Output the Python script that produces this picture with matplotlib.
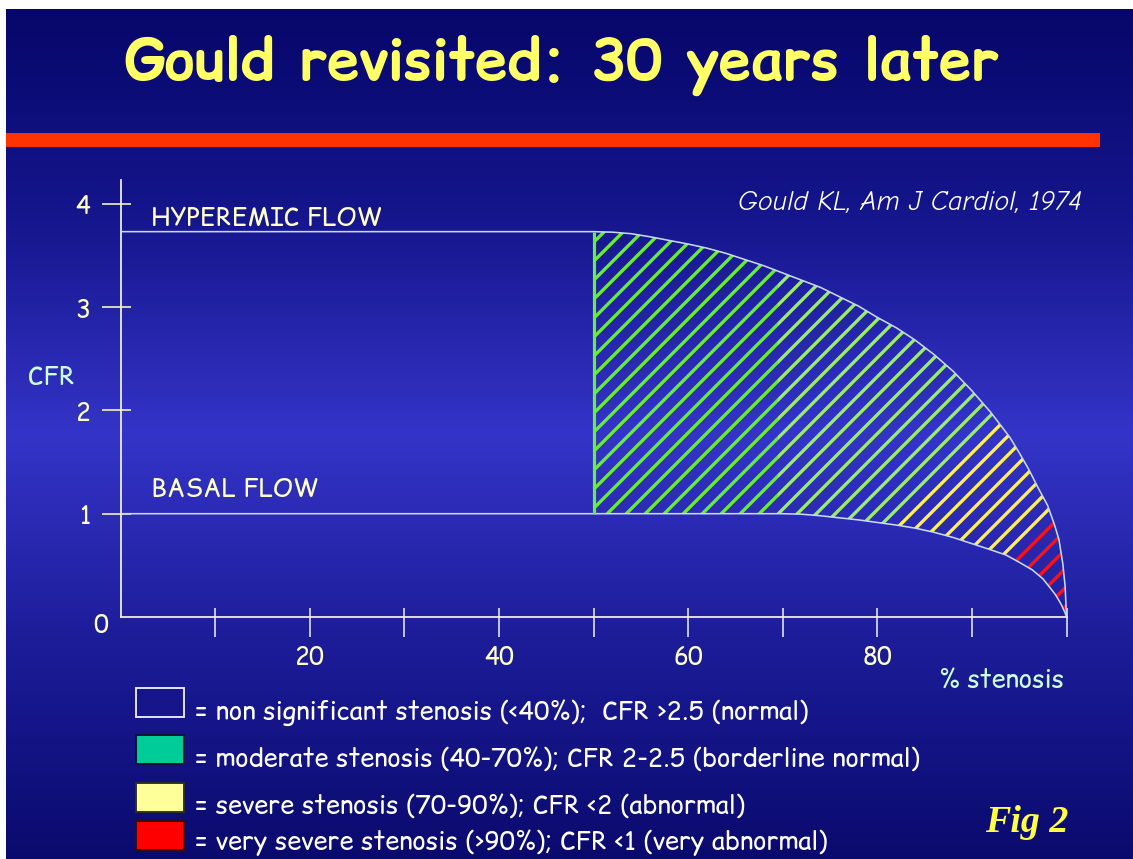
import matplotlib
matplotlib.use("Agg")
import matplotlib.pyplot as plt
import numpy as np
from matplotlib.patches import Polygon, Rectangle
from matplotlib.lines import Line2D
from matplotlib.colors import LinearSegmentedColormap

W, H, DPI = 1133, 859, 114

# curves: % stenosis vs coronary flow reserve
hyper_x = [0, 50, 52, 54, 56, 58, 60, 62, 64, 66, 68, 70, 72, 74, 76, 78, 80, 82, 84, 86, 88, 90,
           92, 94, 95, 96, 97, 98, 98.7, 99.2, 99.6, 99.85, 100]
hyper_y = [3.73, 3.73, 3.725, 3.71, 3.68, 3.645, 3.61, 3.57, 3.52, 3.46, 3.40, 3.33, 3.26, 3.19,
           3.10, 3.01, 2.90, 2.80, 2.68, 2.54, 2.38, 2.19, 1.98, 1.74, 1.59, 1.43, 1.25, 1.08,
           0.90, 0.75, 0.52, 0.30, 0.0]
basal_x = [0, 70, 72, 74, 76, 78, 80, 82, 84, 86, 88, 90, 92, 93.6, 95, 96.4, 97.5, 98.2, 98.8,
           99.2, 99.5, 99.8, 100]
basal_y = [1.0, 1.0, 0.995, 0.98, 0.96, 0.94, 0.915, 0.89, 0.86, 0.82, 0.77, 0.71, 0.65, 0.60,
           0.53, 0.455, 0.37, 0.29, 0.22, 0.16, 0.11, 0.05, 0.0]

x_ticks = [10, 20, 30, 40, 50, 60, 70, 80, 90, 100]
x_labels = ["", "20", "", "40", "", "60", "", "80", "", ""]
y_ticks = [1, 2, 3, 4]

# hatch colours and the lines separating them (two points on each cut)
hatch_start = 50
hatch_colors = ["#66ee33", "#99ee66", "#ffee55", "#ff1111"]
cuts = [
    [(48, 0), (48, 2)],
    [(69.5, 0.9), (69.5, 4.0)],
    [(81.6, 0.92), (91.5, 1.83)],
    [(94.1, 0.60), (98.4, 0.99)],
    [(103, 0), (103, 2)],
]

legend_labels = [
    "= non significant stenosis (<40%);  CFR >2.5 (normal)",
    "= moderate stenosis (40-70%); CFR 2-2.5 (borderline normal)",
    "= severe stenosis (70-90%); CFR <2 (abnormal)",
    "= very severe stenosis (>90%); CFR <1 (very abnormal)",
]
legend_colors = ["#16168a", "#00cc99", "#ffff99", "#ff0000"]
legend_edges = ["#e8e8ff", "#101030", "#303020", "#301010"]
legend_top = [688, 735, 783, 821]
legend_baseline = [719, 766, 813, 850]

bg_stops = ["#06066a", "#16168e", "#3434c8", "#1c1c98", "#0a0a6e"]

plt.rcParams["font.family"] = ["Comic Relief", "Comic Neue", "DejaVu Sans"]
plt.rcParams["hatch.linewidth"] = 2.1


def fx(px):
    return px / W


def fy(py):
    return 1 - py / H


fig = plt.figure(figsize=(W / DPI, H / DPI), dpi=DPI, facecolor="white")

# slide background
bg = fig.add_axes([fx(6), 0, 1 - fx(6), 1 - 9 / H], zorder=0)
cmap = LinearSegmentedColormap.from_list("slide", bg_stops[::-1])
bg.imshow(np.linspace(0, 1, 256).reshape(-1, 1), cmap=cmap, aspect="auto",
          origin="lower", extent=[0, 1, 0, 1])
bg.set_axis_off()

fig.add_artist(Line2D([fx(6), fx(1100)], [fy(140), fy(140)], lw=8.8,
                      color="#ff3300", solid_capstyle="butt"))

fig.text(fx(562), fy(80), "Gould revisited: 30 years later", ha="center", va="baseline",
         fontsize=36.5, fontweight="bold", color="#ffff66")

# main chart
ax = fig.add_axes([fx(120.5), fy(617), fx(1067) - fx(120.5), (617 - 180) / H], zorder=1)
ax.set_facecolor("none")
ax.set_xlim(0, 100.05)
ax.set_ylim(0, 4.23)

ax.plot(hyper_x, hyper_y, color="#c8d8f8", lw=1.0, zorder=4)
ax.plot(basal_x, basal_y, color="#c8d8f8", lw=1.0, zorder=4)

# hatched region between the two curves, coloured by severity
upper = [(x, y) for x, y in zip(hyper_x, hyper_y) if x >= hatch_start]
lower = [(x, y) for x, y in zip(basal_x, basal_y) if x > hatch_start][::-1]
region = upper + lower + [(hatch_start, np.interp(hatch_start, basal_x, basal_y))]


def extend(seg, t):
    (x0, y0), (x1, y1) = seg
    return (x0 + t * (x1 - x0), y0 + t * (y1 - y0))


for i, col in enumerate(hatch_colors):
    band = [extend(cuts[i], -2), extend(cuts[i], 4), extend(cuts[i + 1], 4), extend(cuts[i + 1], -2)]
    p = Polygon(region, closed=True, facecolor="none", edgecolor=col, hatch="//", lw=0, zorder=3)
    ax.add_patch(p)
    p.set_clip_path(Polygon(band, closed=True, transform=ax.transData))

ax.vlines(hatch_start, np.interp(hatch_start, basal_x, basal_y), np.interp(hatch_start, hyper_x, hyper_y),
          color="#66ee44", lw=2.0, zorder=5)

for s in ["top", "right"]:
    ax.spines[s].set_visible(False)
for s in ["left", "bottom"]:
    ax.spines[s].set_color("#f4f4dc")
    ax.spines[s].set_linewidth(1.1)

ax.set_xticks(x_ticks)
ax.set_xticklabels(x_labels)
ax.set_xticks(x_ticks, minor=True)
ax.set_yticks(y_ticks)
ax.set_yticks(y_ticks, minor=True)
ax.xaxis.remove_overlapping_locs = False
ax.yaxis.remove_overlapping_locs = False
ax.tick_params(axis="x", which="major", direction="out", length=12.6, width=1.1,
               color="#d8d8e8", labelcolor="#ffffcc", labelsize=15.5, pad=5.2)
ax.tick_params(axis="x", which="minor", direction="in", length=5.7, width=1.1, color="#d8d8e8")
ax.tick_params(axis="y", which="major", direction="out", length=12, width=1.1,
               color="#e8e8c8", labelcolor="#ffffcc", labelsize=15.5, pad=7)
ax.tick_params(axis="y", which="minor", direction="in", length=6.3, width=1.1, color="#e8e8c8")

txt = dict(fontsize=16, color="#ffffcc", va="baseline")
fig.text(fx(101), fy(632), "0", ha="center", va="baseline", fontsize=15.5, color="#ffffcc")
fig.text(fx(151), fy(225), "HYPEREMIC FLOW", ha="left", **txt)
fig.text(fx(151), fy(496), "BASAL FLOW", ha="left", **txt)
fig.text(fx(28), fy(384), "CFR", ha="left", va="baseline", fontsize=16, color="#ccffdd")
fig.text(fx(939), fy(688), "% stenosis", ha="left", va="baseline", fontsize=16, color="#ccffdd")
# Comic Relief has no italic face, Comic Neue does
fig.text(fx(1082), fy(210), "Gould KL, Am J Cardiol, 1974", ha="right", va="baseline",
         fontsize=17.6, style="italic", color="white", family=["Comic Neue", "DejaVu Sans"])

for lab, col, ec, top, base in zip(legend_labels, legend_colors, legend_edges, legend_top, legend_baseline):
    fig.add_artist(Rectangle((fx(136), fy(top + 29)), fx(183.5) - fx(136), 29 / H,
                             facecolor=col, edgecolor=ec, lw=1.2))
    fig.text(fx(195), fy(base), lab, ha="left", va="baseline", fontsize=16, color="white")

fig.text(fx(985), fy(822), "Fig 2", ha="left", va="center", fontsize=24, fontweight="bold",
         style="italic", color="#ffff44", family="Liberation Serif")

fig.savefig("out.png", dpi=DPI, facecolor=fig.get_facecolor())
